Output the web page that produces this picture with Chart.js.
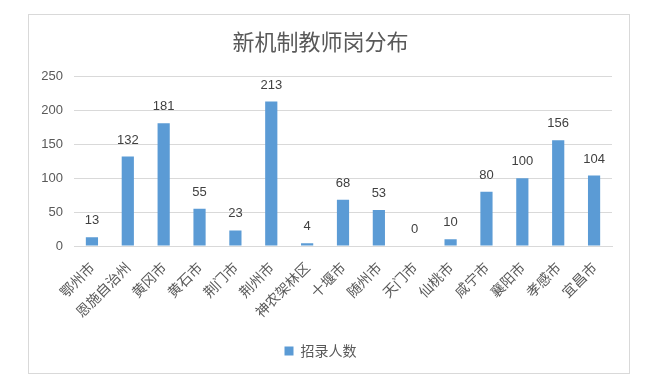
<!DOCTYPE html>
<html><head><meta charset="utf-8">
<script src="https://cdn.jsdelivr.net/npm/chart.js@4"></script>
<style>
html,body{margin:0;padding:0;background:#fff;}
#box{position:absolute;left:28px;top:14px;width:600px;height:358px;border:1px solid #d9d9d9;background:#fff;}
canvas{display:block;}
</style></head>
<body>
<div id="box"><canvas id="c" width="600" height="358"></canvas></div>
<script>
const categories = ['鄂州市','恩施自治州','黄冈市','黄石市','荆门市','荆州市','神农架林区','十堰市','随州市','天门市','仙桃市','咸宁市','襄阳市','孝感市','宜昌市'];
const recruits = [13,132,181,55,23,213,4,68,53,0,10,80,100,156,104];
const yTicks = [0,50,100,150,200,250];
const seriesName = '招录人数';
const titleText = '新机制教师岗分布';

const FONT = '"Noto Sans CJK SC","Liberation Sans",sans-serif';
const NUMFONT = '"Liberation Sans","Noto Sans CJK SC",sans-serif';
const valueLabels = {
  id:'valueLabels',
  afterDatasetsDraw(chart){
    const ctx = chart.ctx;
    const meta = chart.getDatasetMeta(0);
    ctx.save();
    ctx.fillStyle = '#404040';
    ctx.font = '13px ' + NUMFONT;
    ctx.textAlign = 'center';
    ctx.textBaseline = 'bottom';
    meta.data.forEach((el,i)=>{
      ctx.fillText(String(recruits[i]), el.x, el.y - 10);
    });
    ctx.restore();
  }
};

new Chart(document.getElementById('c'), {
  type:'bar',
  data:{labels:categories, datasets:[{label:seriesName, data:recruits, backgroundColor:'#5B9BD5', barPercentage:0.34, categoryPercentage:1}]},
  options:{
    responsive:false, animation:false,
    layout:{padding:{left:0,right:17,top:0,bottom:5}},
    plugins:{
      title:{display:true, text:titleText, color:'#595959', font:{family:FONT, size:22, weight:'normal'}, padding:{top:13,bottom:22}},
      legend:{position:'bottom', labels:{color:'#595959', font:{family:FONT,size:14}, usePointStyle:true, pointStyle:'rect', boxWidth:9, boxHeight:9, padding:10}},
      tooltip:{enabled:false}
    },
    scales:{
      x:{
        grid:{display:false, drawTicks:false},
        border:{display:true, color:'#d9d9d9'},
        ticks:{color:'#595959', font:{family:FONT,size:14}, maxRotation:45, minRotation:45, autoSkip:false, padding:13},
        afterFit(s){ s.height = 88; }
      },
      y:{
        min:0, max:250,
        afterBuildTicks(s){ s.ticks = yTicks.map(v=>({value:v})); },
        grid:{color:'#d9d9d9', drawTicks:false},
        border:{display:false},
        ticks:{color:'#595959', font:{family:NUMFONT,size:13}, padding:11},
        afterFit(s){ s.width = 45; }
      }
    }
  },
  plugins:[valueLabels]
});
</script>
</body></html>
